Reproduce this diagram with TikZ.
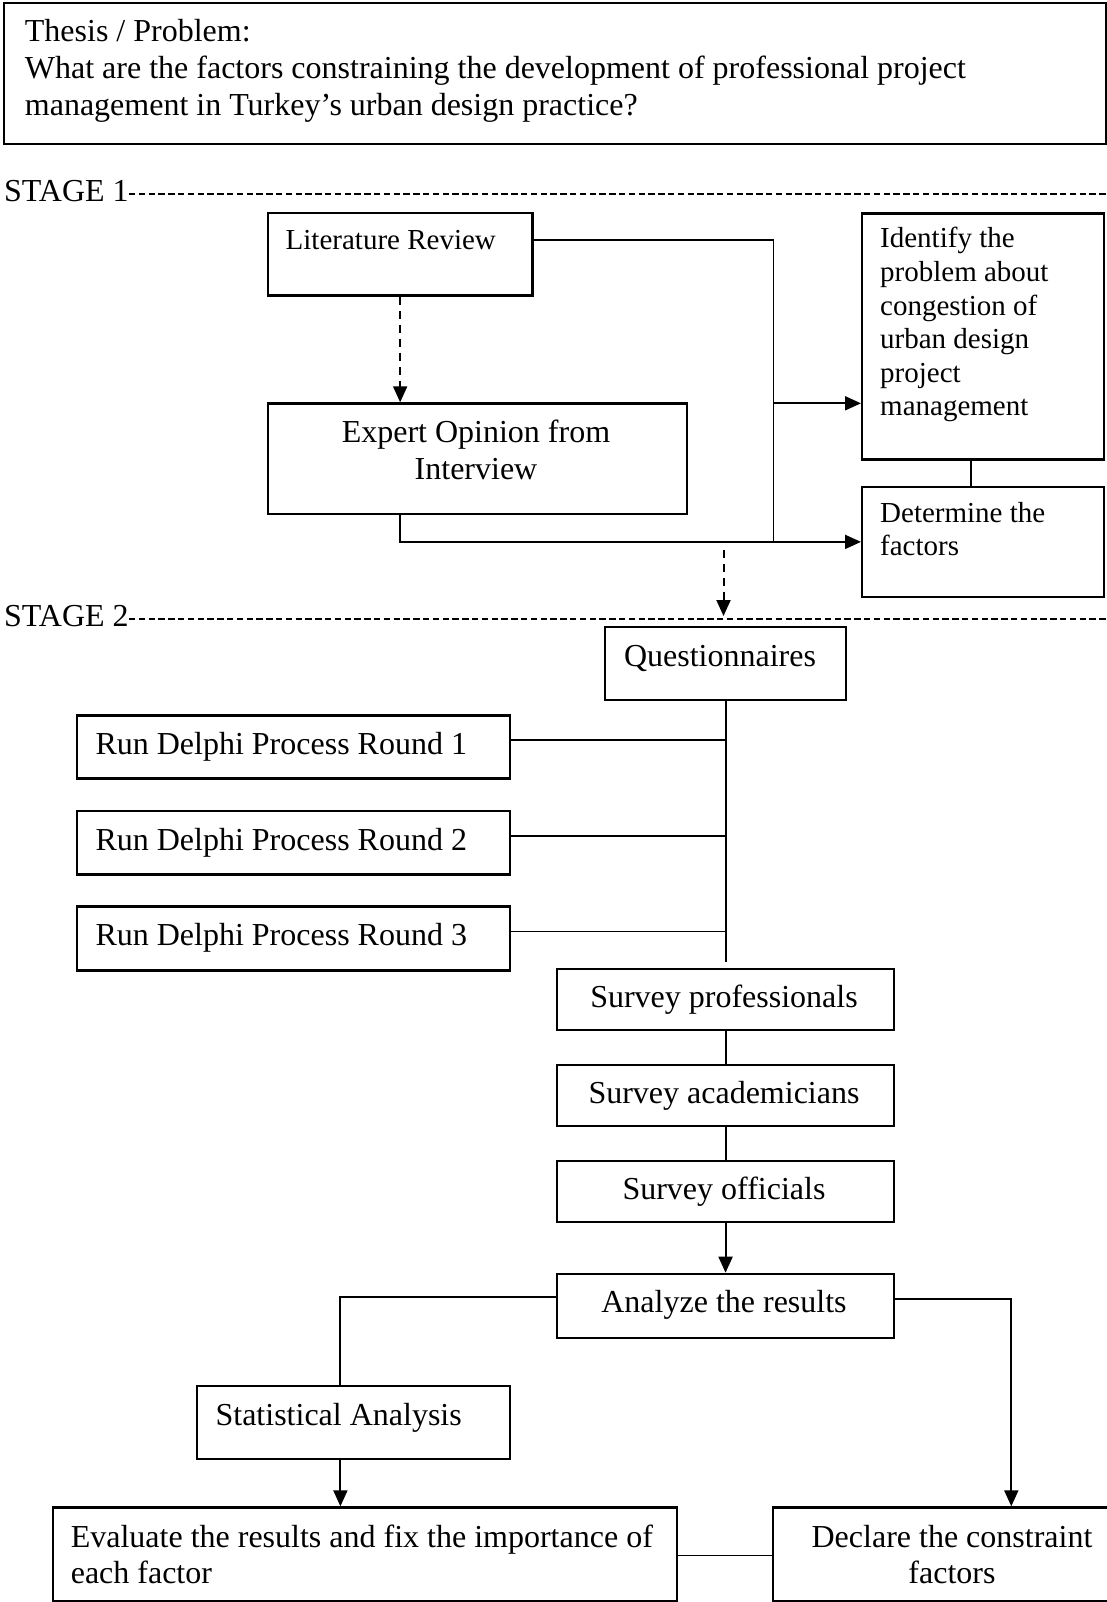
\documentclass[tikz,border=0pt]{standalone}
\usepackage{fontspec}
\setmainfont{Liberation Serif}
\usetikzlibrary{arrows.meta,calc}
\begin{document}
\begin{tikzpicture}[x=1pt,y=-1pt,
  box/.style={draw, line width=2.4pt, rectangle, inner sep=0pt, anchor=north west},
  conn/.style={line width=1.9pt},
  arr/.style={conn, -{Triangle[length=16pt,width=14pt]}},
  darr/.style={arr, line width=2pt, dash pattern=on 8pt off 6pt},
  stageline/.style={line width=1.9pt, dash pattern=on 6.5pt off 3.3pt},
  txt/.style={inner sep=0pt, font=\fontsize{32}{36.7}\selectfont},
  stxt/.style={inner sep=0pt, font=\fontsize{29}{33.6}\selectfont},
]
\useasboundingbox (0,0) rectangle (1107,1602);
\clip (0,0) rectangle (1107,1602);

% boxes
\node[box, minimum width=1102pt, minimum height=141pt] (thesis) at (3,2) {};
\node[box, minimum width=264.9pt, minimum height=82.6pt] (lit) at (266.5,211.7) {};
\node[box, minimum width=419.5pt, minimum height=110.7pt] (exp) at (266.5,402.3) {};
\node[box, minimum width=242pt, minimum height=246pt] (ident) at (861,212.3) {};
\node[box, minimum width=242pt, minimum height=110pt] (det) at (861,485.7) {};
\node[box, minimum width=241pt, minimum height=73pt] (q) at (604,626) {};
\node[box, minimum width=433pt, minimum height=63pt] (r1) at (75.5,714.3) {};
\node[box, minimum width=433pt, minimum height=63.3pt] (r2) at (75.5,810) {};
\node[box, minimum width=433pt, minimum height=64pt] (r3) at (75.5,905.3) {};
\node[box, minimum width=336.7pt, minimum height=61pt] (sp) at (556,967.5) {};
\node[box, minimum width=336.7pt, minimum height=61pt] (sa) at (556,1064) {};
\node[box, minimum width=336.7pt, minimum height=60.7pt] (so) at (556,1160) {};
\node[box, minimum width=336.7pt, minimum height=64.3pt] (an) at (556,1272.7) {};
\node[box, minimum width=312.9pt, minimum height=72.5pt] (st) at (195.6,1385) {};
\node[box, minimum width=624.2pt, minimum height=93.7pt] (ev) at (51.6,1506.3) {};
\node[box, minimum width=360pt, minimum height=93.7pt] (dc) at (772,1506.3) {};

% texts
\node[inner sep=0pt, anchor=base west, text width=1070pt, align=flush left,
      font=\fontsize{32}{36.7}\selectfont] (thesisT) at (24.7,41.7)
  {Thesis / Problem:\\What are the factors constraining the development of professional project\\management in Turkey’s urban design practice?};
\node[txt, anchor=base west] (s1) at (4,201.5) {STAGE 1};
\node[txt, anchor=base west] (s2) at (4,626) {STAGE 2};
\node[stxt, anchor=base west] (litT) at (285.5,250) {Literature Review};
\node[txt, anchor=base, text width=400pt, align=flush center] (expT) at (476,442.7) {Expert Opinion from\\Interview};
\node[stxt, anchor=base west, text width=220pt, align=flush left] (identT) at (880,248)
  {Identify the\\problem about\\congestion of\\urban design\\project\\management};
\node[stxt, anchor=base west, text width=220pt, align=flush left] (detT) at (880,522) {Determine the\\factors};
\node[txt, anchor=base] (qT) at (720,666.7) {Questionnaires};
\node[txt, anchor=base west] (r1T) at (95.3,754.3) {Run Delphi Process Round 1};
\node[txt, anchor=base west] (r2T) at (95.3,850) {Run Delphi Process Round 2};
\node[txt, anchor=base west] (r3T) at (95.3,945) {Run Delphi Process Round 3};
\node[txt, anchor=base] (spT) at (724,1007) {Survey professionals};
\node[txt, anchor=base] (saT) at (724,1103.4) {Survey academicians};
\node[txt, anchor=base] (soT) at (724,1199) {Survey officials};
\node[txt, anchor=base] (anT) at (724,1312.5) {Analyze the results};
\node[txt, anchor=base west] (stT) at (215.4,1425) {Statistical Analysis};
\node[txt, anchor=base west, text width=620pt, align=flush left] (evT) at (70.6,1547)
  {Evaluate the results and fix the importance of\\each factor};
\node[txt, anchor=base, text width=340pt, align=flush center] (dcT) at (952,1547)
  {Declare the constraint\\factors};

% stage lines
\coordinate (s1end) at (1107,194);
\coordinate (s2end) at (1107,619);
\draw[stageline] (s1.east |- s1end) -- (s1end);
\draw[stageline] (s2.east |- s2end) -- (s2end);

% stage 1 connectors
\coordinate (j1) at (773.5,240);
\coordinate (j2) at (773.5,540.7);
\coordinate (j3) at (773.5,403.3);
\coordinate (k0) at (971,470);
\draw[conn] (lit.east |- j1) -- (j1) -- (j2);
\draw[arr] (j3) -- (ident.west |- j3);
\draw[darr] (lit.south) -- (exp.north -| lit.south);
\draw[arr] (exp.south -| lit.south) |- (det.west);
\draw[conn] (ident.south -| k0) -- (det.north -| k0);
\coordinate (d1) at (723.5,550);
\coordinate (d2) at (723.5,616);
\draw[darr] (d1) -- (d2);

% stage 2 connectors
\draw[conn, shorten >=6pt] (q.south) -- (q.south |- sp.north);
\coordinate (r1c) at ([yshift=7pt]r1.east);
\coordinate (r2c) at ([yshift=7pt]r2.east);
\coordinate (r3c) at ([yshift=7pt]r3.east);
\draw[conn] (r1c) -- (q.south |- r1c);
\draw[conn] (r2c) -- (q.south |- r2c);
\draw[conn] (r3c) -- (q.south |- r3c);
\draw[conn] (sp.south) -- (sa.north);
\draw[conn] (sa.south) -- (so.north);
\draw[arr] (so.south) -- (an.north);
\coordinate (k1) at (340.4,1297.3);
\draw[conn] (an.west |- k1) -- (k1) -- (k1 |- st.north);
\draw[arr] (k1 |- st.south) -- (k1 |- ev.north);
\coordinate (k2) at (1011.3,1299.3);
\draw[arr] (an.east |- k2) -- (k2) -- (k2 |- dc.north);
\coordinate (k3) at (700,1555.5);
\draw[conn] (ev.east |- k3) -- (dc.west |- k3);
\end{tikzpicture}
\end{document}
